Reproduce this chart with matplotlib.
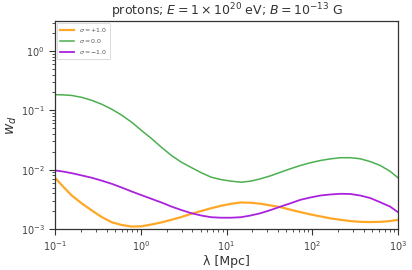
import numpy as np
import matplotlib
matplotlib.use("Agg")
import matplotlib.pyplot as plt

lam = [0.1, 0.111, 0.124, 0.157, 0.206, 0.269, 0.351, 0.458, 0.598, 0.782,
       1.02, 1.33, 1.74, 2.28, 2.97, 3.87, 5.06, 6.61, 8.63, 11.3,
       14.7, 19.2, 25.1, 32.8, 42.9, 56.0, 73.1, 95.5, 125, 163,
       213, 278, 362, 473, 618, 807, 1000]

w_plus = [0.0073, 0.0062, 0.0052, 0.00367, 0.00269, 0.00205, 0.00159, 0.0013,
          0.00117, 0.0011, 0.00111, 0.00119, 0.00129, 0.00143, 0.00159, 0.0018,
          0.00201, 0.00224, 0.00246, 0.00266, 0.0028, 0.00277, 0.00266, 0.00249,
          0.00233, 0.00211, 0.00192, 0.00176, 0.00163, 0.00151, 0.00143, 0.00136,
          0.00132, 0.00131, 0.00132, 0.00136, 0.00143]
w_zero = [0.183, 0.183, 0.182, 0.178, 0.165, 0.147, 0.1265, 0.1045, 0.083, 0.0632,
          0.0457, 0.0336, 0.0239, 0.0173, 0.0134, 0.0109, 0.0089, 0.00748, 0.0068,
          0.0064, 0.00615, 0.0064, 0.00703, 0.0079, 0.00908, 0.0104, 0.01178,
          0.0131, 0.01429, 0.0152, 0.01588, 0.0159, 0.01527, 0.0137, 0.0118,
          0.0094, 0.0073]
w_minus = [0.0097, 0.0095, 0.0093, 0.00873, 0.00798, 0.0073, 0.00653, 0.00578,
           0.00501, 0.00429, 0.00372, 0.00323, 0.0028, 0.00239, 0.00209, 0.00185,
           0.00169, 0.00158, 0.00155, 0.00155, 0.00158, 0.00169, 0.00185, 0.00209,
           0.00239, 0.00272, 0.00311, 0.0034, 0.00367, 0.00382, 0.00392, 0.00389,
           0.00367, 0.00333, 0.00283, 0.00239, 0.00192]

labels = [r"$\sigma = +1.0$", r"$\sigma = 0.0$", r"$\sigma = -1.0$"]
colors = ["#ffa726", "#4caf50", "#aa22dd"]

fig = plt.figure(figsize=(4.12, 2.70), dpi=100)
ax = fig.add_axes([55/412, 1 - 229/270, (398-55)/412, (229-21)/270])

ax.plot(lam, w_plus, color=colors[0], lw=1.6, label=labels[0])
ax.plot(lam, w_zero, color=colors[1], lw=1.1, label=labels[1])
ax.plot(lam, w_minus, color=colors[2], lw=1.3, label=labels[2])

ax.set_xscale("log")
ax.set_yscale("log")
ax.set_xlim(0.1, 1000)
ax.set_ylim(1e-3, 3.2)

for s in ax.spines.values():
    s.set_color("#333333")
    s.set_linewidth(0.9)

ax.tick_params(which="major", direction="out", length=4, width=0.8, labelsize=7,
               top=False, right=False, colors="#333333", labelcolor="#444444")
ax.tick_params(which="minor", direction="out", length=2, width=0.6,
               top=False, right=False, colors="#333333")

ax.set_xlabel("λ [Mpc]", fontsize=9, color="#333333", labelpad=1)
ax.set_ylabel(r"$w_d$", fontsize=10, color="#333333", labelpad=1)
ax.set_title(r"protons; $E = 1 \times 10^{20}$ eV; $B = 10^{-13}$ G",
             fontsize=9, color="#333333", pad=3)

leg = ax.legend(loc="upper left", fontsize=4.5, frameon=True, handlelength=2.2,
                borderaxespad=0.3, labelspacing=0.5, borderpad=0.5)
leg.get_frame().set_edgecolor("#cccccc")
leg.get_frame().set_linewidth(0.6)
for t in leg.get_texts():
    t.set_color("#555555")

fig.savefig("out.png", dpi=100)
